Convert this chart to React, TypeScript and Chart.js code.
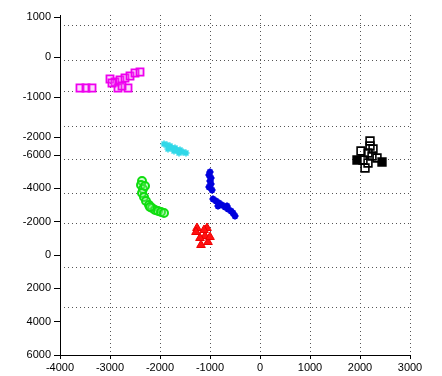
import { useEffect, useRef } from "react";
import { Chart, registerables } from "chart.js";

Chart.register(...registerables);

// ---- data (x in data units, y = projected depth coordinate) ----
const magentaX = [-3600, -3480, -3360, -3000, -2900, -2800, -2700, -2600, -2500, -2400, -2840, -2640, -2960, -2760];
const magentaY = [-10020, -10020, -10020, -10560, -10380, -10500, -10620, -10740, -10920, -10980, -10020, -10020, -10320, -10140];

const cyanX = [-1920, -1860, -1800, -1760, -1700, -1660, -1600, -1540, -1480, -1840, -1720, -1620];
const cyanY = [-6660, -6600, -6540, -6420, -6420, -6300, -6300, -6180, -6120, -6360, -6240, -6120];

const blueX = [-1000, -1020, -980, -1000, -980, -1020, -960, -940, -880, -820, -760, -700, -640, -580, -540, -500, -840, -660];
const blueY = [-4980, -4800, -4620, -4440, -4260, -4080, -3900, -3360, -3240, -3120, -3000, -2880, -2760, -2640, -2520, -2340, -2940, -2940];

const greenX = [-2360, -2380, -2340, -2360, -2320, -2280, -2220, -2160, -2100, -2040, -1980, -1920, -2300, -2200];
const greenY = [-4440, -4200, -3960, -3720, -3480, -3240, -3000, -2820, -2700, -2640, -2580, -2520, -4140, -2880];

const redX = [-1260, -1060, -1100, -1200, -1040, -1180, -1280, -1120, -1000];
const redY = [-1620, -1620, -1140, -1020, -780, -600, -1380, -1500, -1080];

const blackX = [2200, 2200, 2260, 2020, 2160, 2240, 1940, 2060, 2160, 2440, 2100, 2340];
const blackY = [-6840, -6540, -6360, -6240, -6120, -5940, -5700, -5700, -5520, -5580, -5220, -5820];
const blackFilled = [false, false, false, false, false, false, true, false, false, true, false, false];

// ---- axis ticks ----
const xMin = -4000;
const xMax = 3000;
const zTickLabels = [1000, 0, -1000, -2000];
const yTickLabels = [-6000, -4000, -2000, 0, 2000, 4000, 6000];
const gridRows = [-13800, -11700, -9840, -7740, -5760, -3720, -1920, 720, 3120];
const Z_ORIGIN = -11880; // projected position of z = 0
const Z_STEP = 2.4; // projected units per z unit
const vMin = -14400;
const vMax = 6000;

const pts = (xs: number[], ys: number[]) => xs.map((x, i) => ({ x, y: ys[i] }));

export default function App() {
  const ref = useRef<HTMLCanvasElement | null>(null);

  useEffect(() => {
    if (!ref.current) return;
    Chart.defaults.font.family = "'Liberation Sans', Arial, sans-serif";
    const allLabels = [...zTickLabels, ...yTickLabels].map(String);
    const chart = new Chart(ref.current, {
      type: "scatter",
      data: {
        datasets: [
          {
            data: pts(magentaX, magentaY),
            pointStyle: "rect",
            pointRadius: 5,
            borderColor: "#ee00ee",
            backgroundColor: "rgba(240,120,240,0.25)",
            borderWidth: 1.8,
          },
          {
            data: pts(cyanX, cyanY),
            pointStyle: "star",
            pointRadius: 3.5,
            borderColor: "#30d8e8",
            backgroundColor: "#30d8e8",
            borderWidth: 1.6,
          },
          {
            data: pts(blueX, blueY),
            pointStyle: "star",
            pointRadius: 3.5,
            borderColor: "#0000dd",
            backgroundColor: "#0000dd",
            borderWidth: 2,
          },
          {
            data: pts(greenX, greenY),
            pointStyle: "circle",
            pointRadius: 4,
            borderColor: "#10dd10",
            backgroundColor: "rgba(120,240,120,0.35)",
            borderWidth: 2,
          },
          {
            data: pts(redX, redY),
            pointStyle: "triangle",
            pointRadius: 5,
            borderColor: "#ee0000",
            backgroundColor: "#ff1010",
            borderWidth: 1,
          },
          {
            data: pts(blackX, blackY),
            pointStyle: "rect",
            pointRadius: 5.5,
            borderColor: "#000000",
            backgroundColor: blackFilled.map((f) => (f ? "#000" : "rgba(255,255,255,0)")),
            borderWidth: 1.6,
          },
        ],
      },
      options: {
        responsive: false,
        animation: false,
        layout: { padding: { left: 0, right: 32, top: 15, bottom: 0 } },
        plugins: { legend: { display: false }, tooltip: { enabled: false } },
        scales: {
          x: {
            type: "linear",
            position: "bottom",
            min: xMin,
            max: xMax,
            afterFit: (s: any) => {
              s.height = 21;
            },
            ticks: {
              stepSize: 1000,
              color: "#000",
              font: { size: 11 },
              padding: 2,
              callback: (v: any) => String(v),
            },
            grid: {
              color: "#555",
              lineWidth: 1,
              tickColor: "#000",
              tickLength: 4,
              tickBorderDash: [],
            },
            border: { display: true, color: "#000", width: 1, dash: [1, 3] },
          },
          y: {
            type: "linear",
            position: "left",
            reverse: true,
            min: vMin,
            max: vMax,
            afterFit: (s: any) => {
              s.width = 60;
            },
            afterBuildTicks: (s: any) => {
              s.ticks = [
                ...zTickLabels.map((z) => ({ value: Z_ORIGIN - z * Z_STEP })),
                ...yTickLabels.map((v) => ({ value: v })),
              ];
            },
            ticks: {
              autoSkip: false,
              color: "#000",
              font: { size: 11 },
              padding: 3,
              callback: (_v: any, i: number) => allLabels[i],
            },
            grid: {
              drawOnChartArea: false,
              tickColor: "#000",
              tickLength: 6,
            },
            border: { display: true, color: "#000", width: 1 },
          },
          yg: {
            type: "linear",
            position: "left",
            reverse: true,
            min: vMin,
            max: vMax,
            afterFit: (s: any) => {
              s.width = 0;
            },
            afterBuildTicks: (s: any) => {
              s.ticks = gridRows.map((v) => ({ value: v }));
            },
            ticks: { display: false },
            grid: { color: "#555", lineWidth: 1, drawTicks: false },
            border: { display: false, dash: [1, 3] },
          },
        },
      },
    });
    return () => chart.destroy();
  }, []);

  return (
    <div style={{ position: "absolute", left: 0, top: 0, width: 442, height: 376, background: "#fff" }}>
      <canvas ref={ref} width={442} height={376} style={{ display: "block" }} />
    </div>
  );
}
